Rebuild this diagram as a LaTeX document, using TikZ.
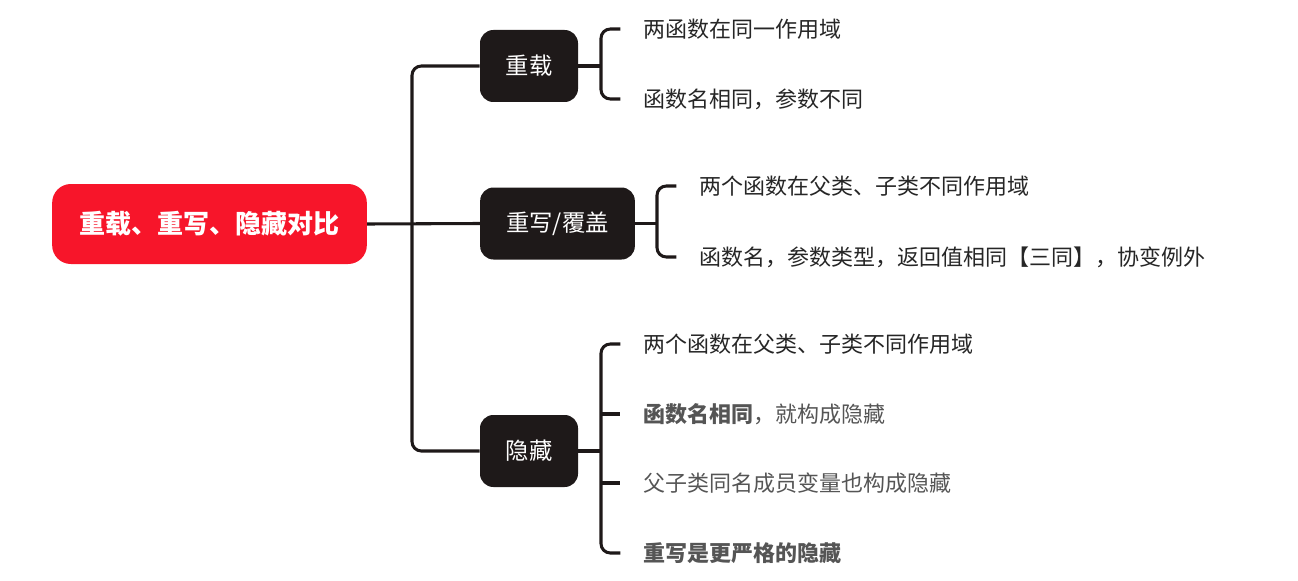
\documentclass[tikz,border=0pt]{standalone}
\usepackage{fontspec}
\setmainfont{Noto Sans CJK SC}
\usepackage{tikz}
\usetikzlibrary{positioning, calc}

\definecolor{rootred}{HTML}{F7152A}
\definecolor{boxdark}{HTML}{1E1919}
\definecolor{leaftext}{HTML}{262626}
\definecolor{leafgray}{HTML}{555555}

\begin{document}
\begin{tikzpicture}[x=0.75pt, y=-0.75pt,
  root/.style={fill=rootred, text=white, rounded corners=14pt, minimum width=236pt, minimum height=60pt, font=\fontsize{19.5}{22}\selectfont\bfseries},
  topic/.style={fill=boxdark, text=white, rounded corners=10pt, minimum height=54pt, inner xsep=0pt, font=\fontsize{17.5}{20}\selectfont},
  leaf/.style={anchor=west, inner sep=0pt, text=leaftext, font=\fontsize{16.5}{20}\selectfont},
  link/.style={draw=boxdark, line width=2.3pt, rounded corners=7pt}]
\useasboundingbox (0,0) rectangle (1298,581);
\node[root] (root) at (209.5,224) {重载、重写、隐藏对比};
\node[topic, minimum width=73.5pt] (ovl) at (529,66) {重载};
\node[topic, minimum width=116pt] (ovr) at (557.5,223.5) {重写/覆盖};
\node[topic, minimum width=73.5pt] (hid) at (529,451) {隐藏};
% leaves
\node[leaf] (ovl1) at (643,29) {两函数在同一作用域};
\node[leaf] (ovl2) at (643,99) {函数名相同，参数不同};
\node[leaf] (ovr1) at (699,186) {两个函数在父类、子类不同作用域};
\node[leaf] (ovr2) at (699,257) {函数名，参数类型，返回值相同【三同】，协变例外};
\node[leaf] (hid1) at (643,344) {两个函数在父类、子类不同作用域};
\node[leaf, text=leafgray] (hid2) at (643,414) {\textbf{函数名相同}，就构成隐藏};
\node[leaf, text=leafgray] (hid3) at (643,483) {父子类同名成员变量也构成隐藏};
\node[leaf, text=leafgray] (hid4) at (643,553) {\textbf{重写是更严格的隐藏}};
% trunk
\coordinate (trunk) at (412,224);
\draw[link] (root.east) -- (ovr.west);
\draw[link] (ovl.west) -| (trunk) |- (hid.west);
% brackets
\coordinate (k1) at (601,66);
\coordinate (k2) at (657,223.5);
\coordinate (k3) at (601,451);
\draw[link] (ovl.east) -- (k1);
\draw[link] ([xshift=-17pt]ovl1.west) -| (k1) |- ([xshift=-17pt]ovl2.west);
\draw[link] (ovr.east) -- (k2);
\draw[link] ([xshift=-17pt]ovr1.west) -| (k2) |- ([xshift=-17pt]ovr2.west);
\draw[link] (hid.east) -- (k3);
\draw[link] ([xshift=-17pt]hid1.west) -| (k3) |- ([xshift=-17pt]hid4.west);
\draw[link] (k3 |- hid2.west) -- ([xshift=-17pt]hid2.west);
\draw[link] (k3 |- hid3.west) -- ([xshift=-17pt]hid3.west);
\end{tikzpicture}
\end{document}
